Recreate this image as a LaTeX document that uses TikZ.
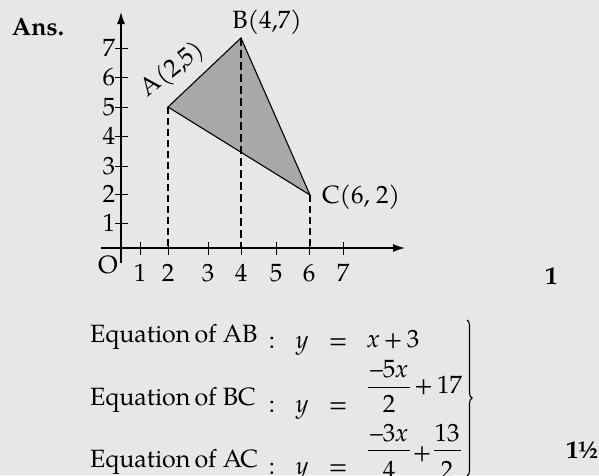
\documentclass[tikz,border=0pt]{standalone}
\usepackage{fontspec}
\setmainfont{TeX Gyre Pagella}
\usetikzlibrary{arrows.meta,decorations.pathreplacing}
\definecolor{bgc}{RGB}{231,231,231}
\definecolor{tri}{RGB}{168,168,168}
\begin{document}
\begin{tikzpicture}[x=1pt,y=-1pt,
  txt/.style={font=\fontsize{25}{29}\selectfont, inner sep=0pt, outer sep=0pt},
  btxt/.style={font=\fontsize{25}{29}\selectfont\bfseries, inner sep=0pt, outer sep=0pt},
  axisline/.style={line width=1.2pt, -{Latex[length=12pt,width=8pt]}},
  tickline/.style={line width=1pt},
  thindash/.style={line width=1.2pt, dash pattern=on 7pt off 4pt},
  thickdash/.style={line width=1.8pt, dash pattern=on 8pt off 4pt},
  fracbar/.style={line width=0.9pt}]
\fill[bgc] (0,0) rectangle (599,475);
\useasboundingbox (0,0) rectangle (599,475);

% Ans.
\node[btxt, anchor=base west] (ans) at (12,35) {Ans.};

% axes
\coordinate (xs) at (101,248);
\coordinate (xe) at (405,248);
\coordinate (ys) at (121,263);
\coordinate (ye) at (121,12);
\draw[axisline] (xs) -- (xe);
\draw[axisline] (ys) -- (ye);

% y ticks and labels
\foreach \yy/\l in {48/7,77/6,107/5,136/4,166/3,194/2,223/1}{
  \coordinate (yt\l a) at (115,\yy);
  \coordinate (yt\l b) at (128,\yy);
  \draw[tickline] (yt\l a) -- (yt\l b);
  \node[txt, anchor=east] (yl\l) at (115,\yy) {\l};
}
% x ticks and labels
\foreach \xx/\l in {140/1,168/2,208/3,241/4,276/5,309/6,343/7}{
  \coordinate (xt\l a) at (\xx,242);
  \coordinate (xt\l b) at (\xx,255);
  \draw[tickline] (xt\l a) -- (xt\l b);
  \node[txt, anchor=base] (xl\l) at (\xx,281) {\l};
}
\node[txt, anchor=base] (orig) at (108,273) {O};

% triangle
\coordinate (A) at (168,107);
\coordinate (B) at (241,38);
\coordinate (C) at (310,195);
\coordinate (Af) at (168,248);
\coordinate (Bf) at (241,248);
\coordinate (Cf) at (310,248);
\filldraw[fill=tri, draw=black, line width=1.1pt, line join=miter] (A) -- (B) -- (C) -- cycle;
\draw[thindash] (A) -- (Af);
\draw[thickdash] (B) -- (Bf);
\draw[thindash] (C) -- (Cf);

\node[txt, rotate=38] (Alab) at (173,70) {A(2,5)};
\node[txt, anchor=base] (Blab) at (267,28) {B(4,7)};
\node[txt, anchor=base west] (Clab) at (322,203) {C(6, 2)};

\node[btxt, anchor=base west] (m1) at (545,284) {1};

% equations
\node[txt, anchor=base west] (e1) at (90,342) {Equation\,of AB};
\node[txt, anchor=base west] (e2) at (90,405) {Equation\,of BC};
\node[txt, anchor=base west] (e3) at (90,467) {Equation\,of AC};

\foreach \r/\yb in {1/348,2/412,3/474}{
  \node[txt, anchor=base] (c\r) at (272,\yb) {:};
  \node[txt, anchor=base] (y\r) at (302,\yb) {\itshape y};
  \node[txt, anchor=base] (q\r) at (338,\yb) {=};
}
\node[txt, anchor=base west] (r1) at (367,347) {{\itshape x}\,+\,3};

% row 2
\node[txt, anchor=base] (n2) at (389,377) {–5{\itshape x}};
\coordinate (b2a) at (368,387);
\coordinate (b2b) at (410,387);
\draw[fracbar] (b2a) -- (b2b);
\node[txt, anchor=base] (d2) at (389,412) {2};
\node[txt, anchor=base west] (p2) at (414,393) {+\,17};

% row 3
\node[txt, anchor=base] (n3) at (389,441) {–3{\itshape x}};
\coordinate (b3a) at (368,450);
\coordinate (b3b) at (410,450);
\draw[fracbar] (b3a) -- (b3b);
\node[txt, anchor=base] (d3) at (389,478) {4};
\node[txt, anchor=base] (p3) at (422,460) {+};
\node[txt, anchor=base] (n3b) at (447,441) {13};
\coordinate (b3c) at (434,450);
\coordinate (b3d) at (461,450);
\draw[fracbar] (b3c) -- (b3d);
\node[txt, anchor=base] (d3b) at (447,478) {2};

% brace
\coordinate (brt) at (467,320);
\coordinate (brb) at (467,476);
\draw[line width=1.1pt, decorate, decoration={brace, amplitude=5pt}] (brt) -- (brb);

\node[btxt, anchor=base west] (m2) at (566,458) {1½};
\end{tikzpicture}
\end{document}
